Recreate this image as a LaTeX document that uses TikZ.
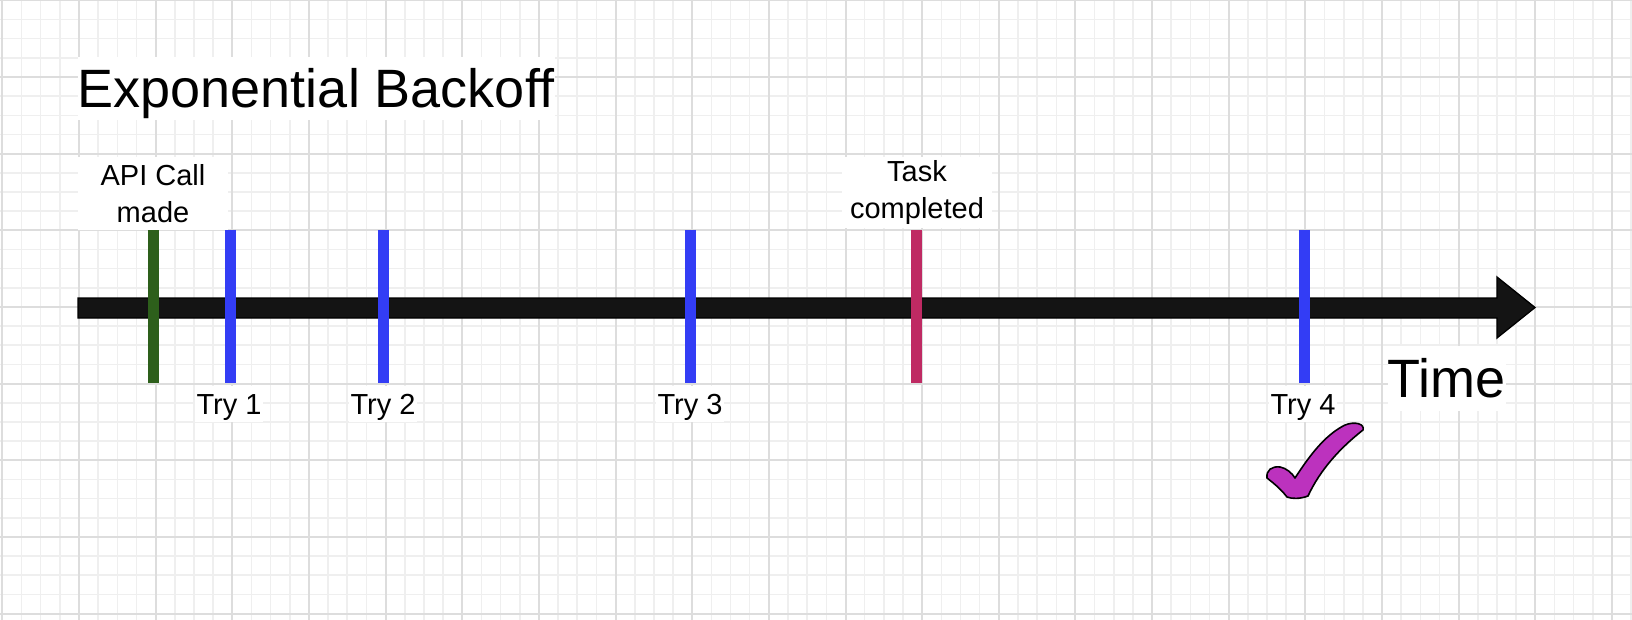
\documentclass[tikz,border=0pt]{standalone}
\usepackage{fontspec}
\setmainfont{Liberation Sans}
\usetikzlibrary{calc}
\definecolor{gridminor}{RGB}{239,239,239}
\definecolor{gridmajor}{RGB}{221,221,221}
\definecolor{axisfill}{RGB}{20,20,20}
\definecolor{startgreen}{RGB}{45,95,27}
\definecolor{tryblue}{RGB}{51,61,245}
\definecolor{donepink}{RGB}{191,42,99}
\definecolor{checkpurple}{RGB}{188,50,190}
\tikzset{
  bigtext/.style={fill=white, inner sep=0pt, font=\fontsize{54}{60}\selectfont, text height=38pt, text depth=0pt},
  smalltext/.style={fill=white, inner sep=0pt, font=\fontsize{29}{37.5}\selectfont, align=center},
  trylabel/.style={smalltext, minimum width=68pt, minimum height=36pt, text height=20pt, text depth=0pt},
  marker/.style={line width=11pt, line cap=butt},
}
\begin{document}
\begin{tikzpicture}[x=1pt, y=-1pt]
\useasboundingbox (0,0) rectangle (1632,620);
\fill[white] (0,0) rectangle (1632,620);
% grid
\foreach \i in {0,...,85} {
  \draw[gridminor, line width=1.6pt] ({2.35+\i*19.1625},0) -- ({2.35+\i*19.1625},620);
}
\foreach \j in {0,...,32} {
  \draw[gridminor, line width=1.6pt] (0,{0.35+\j*19.1625}) -- (1632,{0.35+\j*19.1625});
}
\foreach \i in {0,...,21} {
  \draw[gridmajor, line width=2pt] ({2.35+\i*76.65},0) -- ({2.35+\i*76.65},620);
}
\foreach \j in {0,...,8} {
  \draw[gridmajor, line width=2pt] (0,{0.35+\j*76.65}) -- (1632,{0.35+\j*76.65});
}
% title
\node[bigtext, minimum width=477pt, minimum height=63pt] (title) at (316,88.5) {Exponential Backoff};
% time axis
\coordinate (axstart) at (78,308);
\coordinate (axtip) at (1535,307.5);
\draw[fill=axisfill, draw=black, line width=1.3pt, line join=miter]
  ($(axstart)+(0,-10)$) -- (1497,298) -- (1497,277) -- (axtip) -- (1497,338) -- (1497,318) -- ($(axstart)+(0,10)$) -- cycle;
% markers
\coordinate (apitop) at (153,230);   \coordinate (apibot) at (153,383);
\coordinate (t1top) at (230,230);    \coordinate (t1bot) at (230,383);
\coordinate (t2top) at (383.5,230);  \coordinate (t2bot) at (383.5,383);
\coordinate (t3top) at (690.5,230);  \coordinate (t3bot) at (690.5,383);
\coordinate (donetop) at (916.5,230); \coordinate (donebot) at (916.5,383);
\coordinate (t4top) at (1304,230);   \coordinate (t4bot) at (1304,383);
\draw[marker, startgreen] (apitop) -- (apibot);
\draw[marker, tryblue] (t1top) -- (t1bot);
\draw[marker, tryblue] (t2top) -- (t2bot);
\draw[marker, tryblue] (t3top) -- (t3bot);
\draw[marker, donepink] (donetop) -- (donebot);
\draw[marker, tryblue] (t4top) -- (t4bot);
% labels
\node[smalltext, minimum width=150pt, minimum height=73pt] (apilabel) at (153,193.5) {API Call\\made};
\node[smalltext, minimum width=150pt, minimum height=71pt] (donelabel) at (917,192.5) {Task\\completed};
\node[trylabel] (try1) at (229,404) {Try 1};
\node[trylabel] (try2) at (383,404) {Try 2};
\node[trylabel] (try3) at (690,404) {Try 3};
\node[trylabel] (try4) at (1303,404) {Try 4};
\node[bigtext, minimum width=117pt, minimum height=65pt] (timelabel) at (1446.5,378.5) {Time};
% check mark
\draw[fill=checkpurple, draw=black, line width=1.6pt, line join=round]
  (1267,478) .. controls (1266,470) and (1272,466) .. (1280,467)
  .. controls (1286,468) and (1292,473) .. (1295,478)
  .. controls (1310,455) and (1325,435) .. (1345,425)
  .. controls (1355,421) and (1365,424) .. (1363,430)
  .. controls (1340,448) and (1320,470) .. (1308,496)
  .. controls (1300,499) and (1292,499) .. (1287,497)
  .. controls (1280,488) and (1272,482) .. (1267,478) -- cycle;
\end{tikzpicture}
\end{document}
